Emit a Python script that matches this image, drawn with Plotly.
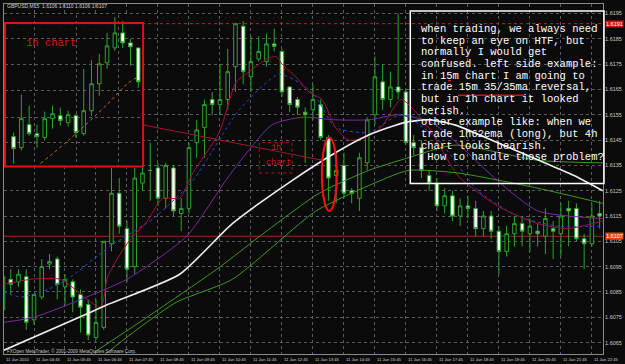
import plotly.graph_objects as go

# ---------------- main 15m chart data (GBPUSD M15, 11 Jan 2010) ----------------
BARS = list(range(78))
OPEN = [1.6078, 1.6090, 1.6089, 1.6091, 1.6074, 1.6083, 1.6096, 1.6098, 1.6087, 1.6089,
        1.6084, 1.6080, 1.6067, 1.6071, 1.6104, 1.6124, 1.6110, 1.6095, 1.6128, 1.6133,
        1.6134, 1.6122, 1.6134, 1.6116, 1.6118, 1.6144, 1.6150, 1.6161, 1.6159, 1.6161,
        1.6174, 1.6190, 1.6170, 1.6177, 1.6176, 1.6183, 1.6180, 1.6166, 1.6161, 1.6156,
        1.6157, 1.6159, 1.6146, 1.6131, 1.6135, 1.6125, 1.6122, 1.6136, 1.6155, 1.6168,
        1.6161, 1.6166, 1.6164, 1.6144, 1.6142, 1.6131, 1.6128, 1.6119, 1.6123, 1.6115,
        1.6119, 1.6118, 1.6110, 1.6115, 1.6109, 1.6101, 1.6108, 1.6112, 1.6108, 1.6109,
        1.6107, 1.6110, 1.6108, 1.6118, 1.6118, 1.6106, 1.6104, 1.6116]
HIGH = [1.6094, 1.6094, 1.6094, 1.6094, 1.6084, 1.6098, 1.6100, 1.6099, 1.6092, 1.6090,
        1.6086, 1.6082, 1.6082, 1.6105, 1.6134, 1.6130, 1.6113, 1.6134, 1.6136, 1.6144,
        1.6136, 1.6136, 1.6135, 1.6122, 1.6144, 1.6153, 1.6161, 1.6164, 1.6175, 1.6181,
        1.6191, 1.6192, 1.6186, 1.6186, 1.6187, 1.6189, 1.6181, 1.6166, 1.6162, 1.6158,
        1.6167, 1.6161, 1.6147, 1.6140, 1.6140, 1.6126, 1.6140, 1.6154, 1.6178, 1.6175,
        1.6172, 1.6195, 1.6165, 1.6147, 1.6145, 1.6133, 1.6130, 1.6126, 1.6125, 1.6122,
        1.6123, 1.6121, 1.6117, 1.6117, 1.6111, 1.6111, 1.6115, 1.6115, 1.6114, 1.6112,
        1.6118, 1.6113, 1.6120, 1.6121, 1.6120, 1.6108, 1.6120, 1.6121]
LOW = [1.6076, 1.6084, 1.6087, 1.6070, 1.6072, 1.6082, 1.6094, 1.6082, 1.6080, 1.6077,
       1.6069, 1.6066, 1.6066, 1.6070, 1.6101, 1.6108, 1.6089, 1.6092, 1.6125, 1.6121,
       1.6119, 1.6118, 1.6115, 1.6109, 1.6116, 1.6138, 1.6138, 1.6155, 1.6155, 1.6157,
       1.6164, 1.6167, 1.6164, 1.6176, 1.6174, 1.6180, 1.6162, 1.6156, 1.6155, 1.6136,
       1.6153, 1.6145, 1.6121, 1.6120, 1.6122, 1.6120, 1.6117, 1.6133, 1.6151, 1.6157,
       1.6158, 1.6161, 1.6143, 1.6139, 1.6130, 1.6125, 1.6117, 1.6116, 1.6113, 1.6111,
       1.6114, 1.6107, 1.6107, 1.6106, 1.6092, 1.6099, 1.6103, 1.6103, 1.6101, 1.6103,
       1.6100, 1.6098, 1.6099, 1.6103, 1.6105, 1.6094, 1.6103, 1.6110]
CLOSE = [1.6091, 1.6088, 1.6092, 1.6073, 1.6084, 1.6095, 1.6097, 1.6088, 1.6090, 1.6083,
         1.6079, 1.6068, 1.6073, 1.6105, 1.6124, 1.6111, 1.6094, 1.6130, 1.6132, 1.6133,
         1.6122, 1.6135, 1.6117, 1.6118, 1.6142, 1.6149, 1.6159, 1.6159, 1.6161, 1.6172,
         1.6191, 1.6172, 1.6176, 1.6180, 1.6183, 1.6182, 1.6164, 1.6159, 1.6158, 1.6155,
         1.6161, 1.6146, 1.6130, 1.6133, 1.6124, 1.6124, 1.6138, 1.6153, 1.6170, 1.6161,
         1.6166, 1.6164, 1.6144, 1.6142, 1.6133, 1.6128, 1.6119, 1.6123, 1.6115, 1.6119,
         1.6118, 1.6110, 1.6115, 1.6109, 1.6101, 1.6108, 1.6112, 1.6109, 1.6111, 1.6108,
         1.6114, 1.6109, 1.6115, 1.6117, 1.6106, 1.6104, 1.6115, 1.6115]

# moving averages (bar position, price)
WHITE_MA_X = [0.13, 9.1, 13.5, 22.8, 29.6, 37.3, 42.9, 47.2, 51.9, 54.9, 58.3, 63.8, 69.9, 73.7, 77.4]
WHITE_MA_Y = [1.6062, 1.6074, 1.6080, 1.6092, 1.6112, 1.6129, 1.6140, 1.6147, 1.6152, 1.6153,
              1.6151, 1.6144, 1.6136, 1.6131, 1.6125]
GREEN1_MA_X = [11.7, 18.1, 27.6, 34.0, 40.8, 47.2, 52.3, 58.3, 69.0, 77.4]
GREEN1_MA_Y = [1.6061, 1.6074, 1.6094, 1.6109, 1.6124, 1.6133, 1.6138, 1.6143, 1.6137, 1.6136]
GREEN2_MA_X = [12.6, 18.1, 22.4, 29.6, 40.4, 47.2, 52.3, 58.7, 69.0, 77.4]
GREEN2_MA_Y = [1.6059, 1.6072, 1.6081, 1.6090, 1.6117, 1.6127, 1.6133, 1.6132, 1.6126, 1.6120]
PURPLE_MA_X = [0.13, 4.0, 10.0, 16.0, 23.7, 29.2, 34.7, 38.6, 42.9, 47.2, 51.0, 55.3, 59.6, 63.8, 69.0, 77.4]
PURPLE_MA_Y = [1.6073, 1.6075, 1.6082, 1.6090, 1.6107, 1.6131, 1.6151, 1.6154, 1.6153, 1.6153,
               1.6155, 1.6152, 1.6141, 1.6129, 1.6117, 1.6114]
CRIMSON_MA_X = [0.13, 3.6, 7.4, 12.6, 13.5, 16.0, 18.6, 20.6, 22.8, 24.5, 27.9, 30.1, 31.8, 34.0,
                35.3, 36.0, 37.8, 39.5, 41.2, 42.9, 44.6, 46.8, 48.8, 51.4, 54.9, 58.7, 63.8, 69.0, 72.8, 77.4]
CRIMSON_MA_Y = [1.6088, 1.6090, 1.6090, 1.6079, 1.6091, 1.6104, 1.6113, 1.6122, 1.6122, 1.6132,
                1.6148, 1.6168, 1.6172, 1.6177, 1.6178, 1.6175, 1.6170, 1.6164, 1.6161, 1.6150,
                1.6145, 1.6146, 1.6150, 1.6161, 1.6150, 1.6131, 1.6119, 1.6112, 1.6110, 1.6113]
BLUE_MA_X = [0.13, 2.3, 5.8, 8.3, 13.8, 19.4, 24.5, 30.5, 35.6, 38.6, 40.4, 42.9, 47.2, 51.4,
             56.2, 61.3, 66.4, 71.5, 77.4]
BLUE_MA_Y = [1.6085, 1.6083, 1.6086, 1.6090, 1.6103, 1.6114, 1.6129, 1.6157, 1.6171, 1.6167,
             1.6162, 1.6150, 1.6148, 1.6155, 1.6145, 1.6125, 1.6115, 1.6111, 1.6111]

PRICE_TICKS = [1.6065, 1.6075, 1.6085, 1.6095, 1.6105, 1.6115, 1.6125, 1.6135, 1.6145,
               1.6155, 1.6165, 1.6175, 1.6185, 1.6195]
TIME_TICK_BARS = [0, 4, 8, 12, 16, 20, 24, 28, 32, 36, 40, 44, 48, 52, 56, 60, 64, 68, 72, 76]
TIME_LABELS = ["11 Jan 2010", "11 Jan 04:45", "11 Jan 05:45", "11 Jan 06:45", "11 Jan 07:45",
               "11 Jan 08:45", "11 Jan 09:45", "11 Jan 10:45", "11 Jan 11:45", "11 Jan 12:45",
               "11 Jan 13:45", "11 Jan 14:45", "11 Jan 15:45", "11 Jan 16:45", "11 Jan 17:45",
               "11 Jan 18:45", "11 Jan 19:45", "11 Jan 20:45", "11 Jan 21:45", "11 Jan 22:45"]
HIGH_LINE = 1.6191
BID_LINE = 1.6107

# ---------------- inset 1h chart data ----------------
H1_BARS = list(range(17))
H1_OPEN = [1.6072, 1.6061, 1.6084, 1.6075, 1.6071, 1.6090, 1.6093, 1.6086, 1.6093, 1.6075,
           1.6098, 1.6125, 1.6146, 1.6161, 1.6176, 1.6166, 1.6161]
H1_HIGH = [1.6076, 1.6114, 1.6103, 1.6084, 1.6097, 1.6103, 1.6101, 1.6098, 1.6095, 1.6140,
           1.6149, 1.6155, 1.6176, 1.6192, 1.6188, 1.6170, 1.6161]
H1_LOW = [1.6045, 1.6058, 1.6073, 1.6061, 1.6068, 1.6080, 1.6083, 1.6082, 1.6071, 1.6073,
          1.6093, 1.6113, 1.6140, 1.6158, 1.6161, 1.6143, 1.6121]
H1_CLOSE = [1.6060, 1.6090, 1.6075, 1.6072, 1.6090, 1.6095, 1.6088, 1.6094, 1.6076, 1.6098,
            1.6125, 1.6145, 1.6163, 1.6176, 1.6166, 1.6162, 1.6127]
H1_MA_X = [3.46, 7.0, 12.1, 14.6, 16.2]
H1_MA_Y = [1.6045, 1.6068, 1.6105, 1.6125, 1.6133]
H1_GRID_Y = [1.6066, 1.6091, 1.6118, 1.6144, 1.6170]
H1_GRID_X = [2.7, 8.1, 13.5]

NOTE_LINES = ["when trading, we always need",
              "to keep an eye on HTF, but",
              "normally I would get",
              "confused. left side example:",
              "in 15m chart I am going to",
              "trade 15m 35/35ma reversal,",
              "but in 1h chart it looked",
              "berish.",
              "other example like: when we",
              "trade 1h62ema (long), but 4h",
              "chart looks bearish.",
              " How to handle those problem?"]

# ---------------- layout geometry ----------------
W, H = 625, 364
ML, MR, MT, MB = 3, 19, 3, 10
PW, PH = W - ML - MR, H - MT - MB


def px(x):
    return (x - ML) / PW


def py(y):
    return (H - MB - y) / PH


BG = "#0b0b0b"
GREEN = "#2aa52a"
GRID = "#5a5a5a"

fig = go.Figure()

# main candles
fig.add_trace(go.Candlestick(
    x=BARS, open=OPEN, high=HIGH, low=LOW, close=CLOSE,
    increasing=dict(line=dict(color=GREEN, width=1), fillcolor=BG),
    decreasing=dict(line=dict(color=GREEN, width=1), fillcolor="#ffffff"),
    whiskerwidth=0, showlegend=False, hoverinfo="skip", xaxis="x", yaxis="y"))

for xs, ys, col, w, dash in [
    (BLUE_MA_X, BLUE_MA_Y, "#2a44d0", 1, "dot"),
    (PURPLE_MA_X, PURPLE_MA_Y, "#7a2aa0", 1, "solid"),
    (CRIMSON_MA_X, CRIMSON_MA_Y, "#a0103c", 1, "solid"),
    (GREEN2_MA_X, GREEN2_MA_Y, "#3c9a22", 1, "solid"),
    (GREEN1_MA_X, GREEN1_MA_Y, "#3c9a22", 1, "solid"),
    (WHITE_MA_X, WHITE_MA_Y, "#eeeeee", 1.6, "solid"),
]:
    fig.add_trace(go.Scatter(x=xs, y=ys, mode="lines",
                             line=dict(color=col, width=w, dash=dash, shape="spline", smoothing=0.6),
                             showlegend=False, hoverinfo="skip", xaxis="x", yaxis="y"))

# inset candles
fig.add_trace(go.Candlestick(
    x=H1_BARS, open=H1_OPEN, high=H1_HIGH, low=H1_LOW, close=H1_CLOSE,
    increasing=dict(line=dict(color=GREEN, width=1), fillcolor=BG),
    decreasing=dict(line=dict(color=GREEN, width=1), fillcolor="#ffffff"),
    whiskerwidth=0, showlegend=False, hoverinfo="skip", xaxis="x2", yaxis="y2"))
fig.add_trace(go.Scatter(x=H1_MA_X, y=H1_MA_Y, mode="lines",
                         line=dict(color="#c07028", width=1, dash="dot", shape="spline"),
                         showlegend=False, hoverinfo="skip", xaxis="x2", yaxis="y2"))

x_lo = (ML - 2) / 7.8
x_hi = (606 - 2) / 7.8
y_lo = 1.6105 + (241 - 354) / 25385
y_hi = 1.6105 + (241 - 3) / 25385

shapes = []
# black backing under the pasted 1h picture (hides main grid there)
shapes.append(dict(type="rect", xref="x", yref="y", x0=-1, x1=(143 - 2) / 7.8,
                   y0=1.6105 + (241 - 167) / 25385, y1=1.6105 + (241 - 14) / 25385,
                   fillcolor=BG, line=dict(width=0), layer="between"))
# high line and bid line
shapes.append(dict(type="line", xref="paper", yref="y", x0=0, x1=1, y0=HIGH_LINE, y1=HIGH_LINE,
                   line=dict(color="#d01818", width=1, dash="dot"), layer="above"))
shapes.append(dict(type="line", xref="paper", yref="y", x0=0, x1=1, y0=BID_LINE, y1=BID_LINE,
                   line=dict(color="#9a2a2a", width=1), layer="between"))
# red border of the inset
shapes.append(dict(type="rect", xref="paper", yref="paper", x0=px(4), x1=px(143), y0=py(166), y1=py(22),
                   line=dict(color="#e01010", width=2), layer="above"))
# connecting line from inset to the ellipse
shapes.append(dict(type="line", xref="x", yref="y", x0=(143 - 2) / 7.8, x1=(324 - 2) / 7.8,
                   y0=1.6151, y1=1.6137, line=dict(color="#a01828", width=1), layer="above"))
# small dotted "1h chart" box
shapes.append(dict(type="rect", xref="x", yref="y", x0=(260 - 2) / 7.8, x1=(293 - 2) / 7.8,
                   y0=1.6132, y1=1.6144, line=dict(color="#b01818", width=1, dash="dot"), layer="above"))
# ellipse around the reversal candle
shapes.append(dict(type="circle", xref="x", yref="y", x0=(323 - 2) / 7.8, x1=(338 - 2) / 7.8,
                   y0=1.6117, y1=1.6146, line=dict(color="#ff1010", width=2), layer="above"))
# note box
shapes.append(dict(type="rect", xref="paper", yref="paper", x0=px(412), x1=px(607), y0=py(183), y1=py(10),
                   line=dict(color="#ffffff", width=1.5), layer="above"))
# red underline and mark in the note
shapes.append(dict(type="line", xref="paper", yref="paper", x0=px(460), x1=px(527), y0=py(94.5), y1=py(94.5),
                   line=dict(color="#e01010", width=1.5), layer="above"))
shapes.append(dict(type="line", xref="paper", yref="paper", x0=px(450), x1=px(453), y0=py(80), y1=py(80),
                   line=dict(color="#e01010", width=1.5), layer="above"))

ann = []
ann.append(dict(text="GBPUSD,M15  1.6106 1.6110 1.6106 1.6107", xref="paper", yref="paper",
                x=px(4), y=py(5), xanchor="left", yanchor="middle", showarrow=False,
                font=dict(family="Liberation Sans", size=5, color="#d0d0d0")))
ann.append(dict(text="FXOpen MetaTrader, © 2001-2009 MetaQuotes Software Corp.", xref="paper", yref="paper",
                x=px(4), y=py(351), xanchor="left", yanchor="middle", showarrow=False,
                font=dict(family="Liberation Sans", size=4.6, color="#c0c0c0")))
ann.append(dict(text="1h chart", xref="paper", yref="paper", x=px(23), y=py(42), xanchor="left",
                yanchor="middle", showarrow=False,
                font=dict(family="Liberation Mono", size=10.5, color="#d81818")))
ann.append(dict(text="1h", xref="x", yref="y", x=(270 - 2) / 7.8, y=1.6142, xanchor="left", yanchor="middle",
                showarrow=False, font=dict(family="Liberation Mono", size=8.5, color="#c01818")))
ann.append(dict(text="chart", xref="x", yref="y", x=(265 - 2) / 7.8, y=1.6136, xanchor="left", yanchor="middle",
                showarrow=False, font=dict(family="Liberation Mono", size=8.5, color="#c01818")))
for k, line in enumerate(NOTE_LINES):
    ann.append(dict(text=line.replace(" ", "&nbsp;"), xref="paper", yref="paper", x=px(421), y=py(28 + 11.7 * k),
                    xanchor="left", yanchor="middle", showarrow=False,
                    font=dict(family="Liberation Mono", size=10.5, color="#ffffff")))
for b, lab in zip(TIME_TICK_BARS, TIME_LABELS):
    ann.append(dict(text=lab, xref="x", yref="paper", x=max(b, x_lo), y=py(359.5), xanchor="left",
                    yanchor="middle", showarrow=False,
                    font=dict(family="Liberation Sans", size=4.2, color="#d0d0d0")))
for val, bg in [(HIGH_LINE, "#d01010"), (BID_LINE, "#e8440c")]:
    ann.append(dict(text=f"{val:.4f}", xref="paper", yref="y", x=1.003, y=val, xanchor="left", yanchor="middle",
                    showarrow=False, bgcolor=bg, borderpad=0,
                    font=dict(family="Liberation Sans", size=5.5, color="#ffffff")))

fig.update_layout(
    width=W, height=H, margin=dict(l=ML, r=MR, t=MT, b=MB),
    paper_bgcolor=BG, plot_bgcolor=BG, boxgap=0.35, showlegend=False,
    shapes=shapes, annotations=ann,
    xaxis=dict(domain=[0, 1], range=[x_lo, x_hi], tickvals=TIME_TICK_BARS, showticklabels=False,
               showgrid=True, gridcolor=GRID, griddash="dot", gridwidth=1, zeroline=False,
               showline=True, linecolor="#8a8a8a", linewidth=1, mirror=True, ticks="",
               rangeslider=dict(visible=False), fixedrange=True),
    yaxis=dict(domain=[0, 1], range=[y_lo, y_hi], side="right", tickvals=PRICE_TICKS,
               ticktext=[f"{v:.4f}" for v in PRICE_TICKS], showgrid=True, gridcolor=GRID, griddash="dot",
               gridwidth=1, zeroline=False, showline=True, linecolor="#8a8a8a", linewidth=1, mirror=True,
               ticks="", tickfont=dict(family="Liberation Sans", size=5.5, color="#c8c8c8"), fixedrange=True),
    xaxis2=dict(domain=[px(4), px(143)], range=[-1.1, 16.62], anchor="y2", tickvals=H1_GRID_X,
                showticklabels=False, showgrid=True, gridcolor=GRID, griddash="dot", zeroline=False,
                showline=False, ticks="", rangeslider=dict(visible=False)),
    yaxis2=dict(domain=[py(166), py(14)], range=[1.6042, 1.6194], anchor="x2", tickvals=H1_GRID_Y,
                showticklabels=False, showgrid=True, gridcolor=GRID, griddash="dot", zeroline=False,
                showline=False, ticks=""),
)

fig.write_html("out.html")
